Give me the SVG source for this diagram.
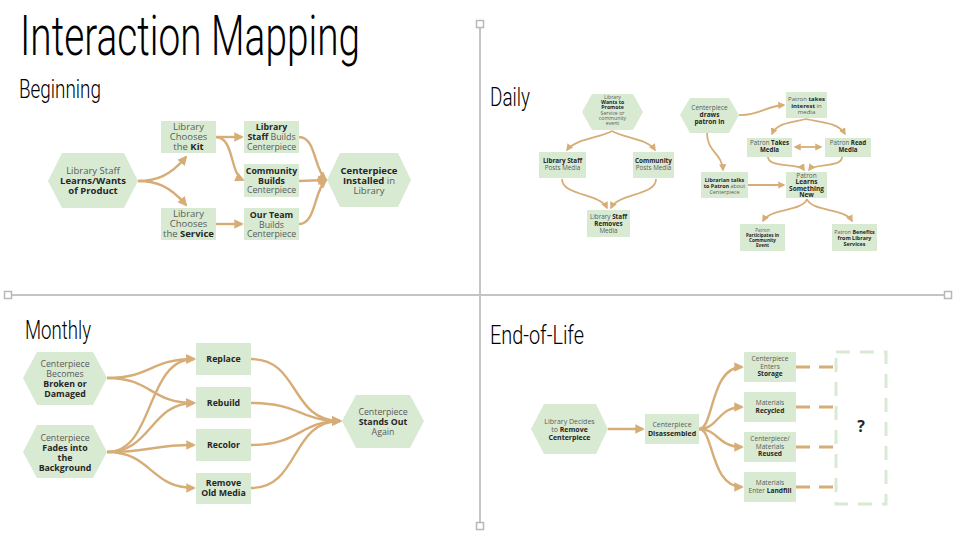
<svg xmlns="http://www.w3.org/2000/svg" width="960" height="540" viewBox="0 0 960 540">
<style>
.n{fill:#d9ead3}
.t{font-family:"Open Sans","Noto Sans","DejaVu Sans",sans-serif;fill:#5a5a5a;text-anchor:middle}
.b{font-weight:bold;fill:#262626}
.h{font-family:Roboto,"DejaVu Sans",sans-serif;font-weight:300;fill:#000}
.c{fill:none;stroke:#d7ad77;stroke-width:2.4}
.c2{fill:none;stroke:#d7ad77;stroke-width:1.8}
.d{fill:none;stroke:#d7ad77;stroke-width:3;stroke-dasharray:14 9}
.g{stroke:#c4c4c4;stroke-width:2;fill:none}
.gs{fill:#fff;stroke:#b8b8b8;stroke-width:1.5}
</style>
<defs>
<marker id="ah" viewBox="0 0 10 10" refX="8" refY="5" markerWidth="4" markerHeight="4" orient="auto-start-reverse">
<path d="M0,0 L10,5 L0,10 z" fill="#d7ad77"/>
</marker>
</defs>
<rect width="960" height="540" fill="#fff"/>
<g id="axes">
<line class="g" x1="480" y1="24" x2="480" y2="523"/>
<line class="g" x1="10" y1="295" x2="945" y2="295"/>
<rect class="gs" x="476.5" y="20.5" width="7" height="7"/>
<rect class="gs" x="476.5" y="522.5" width="7" height="7"/>
<rect class="gs" x="4.5" y="291.5" width="7" height="7"/>
<rect class="gs" x="944.5" y="291.5" width="7" height="7"/>
</g>
<g id="titles">
<text class="h" x="20" y="55" font-size="56" textLength="340" lengthAdjust="spacingAndGlyphs">Interaction Mapping</text>
<text class="h" x="19" y="98" font-size="26" textLength="82" lengthAdjust="spacingAndGlyphs">Beginning</text>
<text class="h" x="490" y="106" font-size="26" textLength="40" lengthAdjust="spacingAndGlyphs">Daily</text>
<text class="h" x="25" y="339" font-size="26" textLength="66" lengthAdjust="spacingAndGlyphs">Monthly</text>
<text class="h" x="490" y="344" font-size="26" textLength="94" lengthAdjust="spacingAndGlyphs">End-of-Life</text>
</g>
<g id="connectors">
<!-- Beginning -->
<path class="c" marker-end="url(#ah)" d="M138,181 C156,181 170,176 186,157"/>
<path class="c" marker-end="url(#ah)" d="M138,181 C156,181 170,186 186,205"/>
<path class="c" marker-end="url(#ah)" d="M216,137 L242,137"/>
<path class="c" marker-end="url(#ah)" d="M216,137 C234,137 230,174 243,180"/>
<path class="c" marker-end="url(#ah)" d="M216,224 L242,224"/>
<path class="c" marker-end="url(#ah)" d="M299,137 C316,137 314,170 326,180"/>
<path class="c" marker-end="url(#ah)" d="M299,181 L326,180"/>
<path class="c" marker-end="url(#ah)" d="M299,224 C316,224 314,190 326,180"/>
<!-- Daily left -->
<path class="c2" marker-end="url(#ah)" d="M612,131 C600,138 575,139 567,150"/>
<path class="c2" marker-end="url(#ah)" d="M612,131 C624,138 648,139 655,150"/>
<path class="c2" marker-end="url(#ah)" d="M562,179 C562,196 600,193 607,208"/>
<path class="c2" marker-end="url(#ah)" d="M656,179 C656,196 618,193 611,208"/>
<!-- Daily right -->
<path class="c2" marker-end="url(#ah)" d="M739,115 C758,116 766,106 784,105"/>
<path class="c2" marker-end="url(#ah)" d="M707,133 C707,152 722,153 723,170"/>
<path class="c2" marker-end="url(#ah)" d="M806,119 C795,122 777,122 772,134"/>
<path class="c2" marker-end="url(#ah)" d="M806,119 C818,122 838,122 845,134"/>
<path class="c2" marker-start="url(#ah)" marker-end="url(#ah)" d="M795,147 L821,147"/>
<path class="c2" marker-end="url(#ah)" d="M768,157 C768,168 800,163 804,170"/>
<path class="c2" marker-end="url(#ah)" d="M842,157 C842,168 814,163 809,170"/>
<path class="c2" marker-end="url(#ah)" d="M748,185 L784,185"/>
<path class="c2" marker-end="url(#ah)" d="M807,199 C802,212 770,208 763,221"/>
<path class="c2" marker-end="url(#ah)" d="M807,199 C812,212 845,208 852,221"/>
<!-- Monthly -->
<path class="c" marker-end="url(#ah)" d="M107,378 C152,378 150,359 194,359"/>
<path class="c" marker-end="url(#ah)" d="M107,378 C152,378 150,403 194,403"/>
<path class="c" marker-end="url(#ah)" d="M107,452 C155,452 145,359 194,359"/>
<path class="c" marker-end="url(#ah)" d="M107,452 C152,452 150,403 194,403"/>
<path class="c" marker-end="url(#ah)" d="M107,452 C152,452 150,445 194,445"/>
<path class="c" marker-end="url(#ah)" d="M107,452 C152,452 150,488 194,488"/>
<path class="c" marker-end="url(#ah)" d="M251,359 C300,359 290,421 340,421"/>
<path class="c" marker-end="url(#ah)" d="M251,403 C300,403 300,421 340,421"/>
<path class="c" marker-end="url(#ah)" d="M251,445 C300,445 300,421 340,421"/>
<path class="c" marker-end="url(#ah)" d="M251,488 C300,488 290,421 340,421"/>
<!-- End of life -->
<path class="c" marker-end="url(#ah)" d="M608,429 L643,429"/>
<path class="c" marker-end="url(#ah)" d="M699,429 C714,429 710,367 742,367"/>
<path class="c" marker-end="url(#ah)" d="M699,429 C718,429 718,407 742,407"/>
<path class="c" marker-end="url(#ah)" d="M699,429 C718,429 718,447 742,447"/>
<path class="c" marker-end="url(#ah)" d="M699,429 C714,429 710,487 742,487"/>
<path class="d" d="M796,367 L835,367"/>
<path class="d" d="M796,407 L835,407"/>
<path class="d" d="M796,447 L835,447"/>
<path class="d" d="M796,487 L835,487"/>
</g>
<!-- Beginning nodes -->
<g id="b-learns">
<polygon class="n" points="48,181 62,153 124,153 138,181 124,208 62,208"/>
<text class="t" x="93" font-size="9.5"><tspan x="93" y="174">Library Staff</tspan><tspan x="93" y="184" class="b">Learns/Wants</tspan><tspan x="93" y="194" class="b">of Product</tspan></text>
</g>
<g id="b-kit">
<rect class="n" x="161" y="121" width="55" height="32"/>
<text class="t" font-size="9.5"><tspan x="188.5" y="130">Library</tspan><tspan x="188.5" y="140">Chooses</tspan><tspan x="188.5" y="150">the <tspan class="b">Kit</tspan></tspan></text>
</g>
<g id="b-service">
<rect class="n" x="161" y="208" width="55" height="32"/>
<text class="t" font-size="9.5"><tspan x="188.5" y="217">Library</tspan><tspan x="188.5" y="227">Chooses</tspan><tspan x="188.5" y="237">the <tspan class="b">Service</tspan></tspan></text>
</g>
<g id="b-staff">
<rect class="n" x="244" y="121" width="55" height="32"/>
<text class="t" font-size="8.8"><tspan x="271.5" y="130" class="b">Library</tspan><tspan x="271.5" y="140"><tspan class="b">Staff</tspan> Builds</tspan><tspan x="271.5" y="150">Centerpiece</tspan></text>
</g>
<g id="b-community">
<rect class="n" x="244" y="164" width="55" height="33"/>
<text class="t" font-size="8.8"><tspan x="271.5" y="174" class="b">Community</tspan><tspan x="271.5" y="183.5" class="b">Builds</tspan><tspan x="271.5" y="193">Centerpiece</tspan></text>
</g>
<g id="b-team">
<rect class="n" x="244" y="208" width="55" height="32"/>
<text class="t" font-size="8.8"><tspan x="271.5" y="218" class="b">Our Team</tspan><tspan x="271.5" y="227.5">Builds</tspan><tspan x="271.5" y="237">Centerpiece</tspan></text>
</g>
<g id="b-installed">
<polygon class="n" points="327,180 340,153 398,153 411,180 398,207 340,207"/>
<text class="t" font-size="9.5"><tspan x="369" y="174" class="b">Centerpiece</tspan><tspan x="369" y="184"><tspan class="b">Installed</tspan> in</tspan><tspan x="369" y="194">Library</tspan></text>
</g>
<!-- Daily nodes -->
<g id="d-promote">
<polygon class="n" points="582,112 592,94 633,94 643,112 633,130 592,130"/>
<text class="t" font-size="5.2"><tspan x="612.5" y="99">Library</tspan><tspan x="612.5" y="104" class="b">Wants to</tspan><tspan x="612.5" y="109" class="b">Promote</tspan><tspan x="612.5" y="114.5">Service or</tspan><tspan x="612.5" y="119.5">community</tspan><tspan x="612.5" y="124.5">event</tspan></text>
</g>
<g id="d-staffposts">
<rect class="n" x="539" y="152" width="47" height="26"/>
<text class="t" font-size="6.3"><tspan x="562.5" y="163" class="b">Library Staff</tspan><tspan x="562.5" y="170">Posts Media</tspan></text>
</g>
<g id="d-commposts">
<rect class="n" x="633" y="152" width="41" height="26"/>
<text class="t" font-size="6.3"><tspan x="653.5" y="163" class="b">Community</tspan><tspan x="653.5" y="170">Posts Media</tspan></text>
</g>
<g id="d-removes">
<rect class="n" x="587" y="210" width="43" height="27"/>
<text class="t" font-size="6.3"><tspan x="608.5" y="219">Library <tspan class="b">Staff</tspan></tspan><tspan x="608.5" y="226" class="b">Removes</tspan><tspan x="608.5" y="233">Media</tspan></text>
</g>
<g id="d-draws">
<polygon class="n" points="680,115 690,98 729,98 739,115 729,133 690,133"/>
<text class="t" font-size="6.5"><tspan x="709.5" y="110">Centerpiece</tspan><tspan x="709.5" y="117" class="b">draws</tspan><tspan x="709.5" y="124" class="b">patron in</tspan></text>
</g>
<g id="d-interest">
<rect class="n" x="786" y="92" width="41" height="26"/>
<text class="t" font-size="6"><tspan x="806.5" y="101">Patron <tspan class="b">takes</tspan></tspan><tspan x="806.5" y="107.5"><tspan class="b">interest</tspan> in</tspan><tspan x="806.5" y="114">media</tspan></text>
</g>
<g id="d-takes">
<rect class="n" x="747" y="138" width="45" height="19"/>
<text class="t" font-size="6.2"><tspan x="769.5" y="145">Patron <tspan class="b">Takes</tspan></tspan><tspan x="769.5" y="152" class="b">Media</tspan></text>
</g>
<g id="d-read">
<rect class="n" x="825" y="138" width="46" height="19"/>
<text class="t" font-size="6.2"><tspan x="848" y="145">Patron <tspan class="b">Read</tspan></tspan><tspan x="848" y="152" class="b">Media</tspan></text>
</g>
<g id="d-librarian">
<rect class="n" x="701" y="172" width="47" height="26"/>
<text class="t" font-size="5.4"><tspan x="724.5" y="182" class="b">Librarian talks</tspan><tspan x="724.5" y="188"><tspan class="b">to Patron</tspan> about</tspan><tspan x="724.5" y="194">Centerpiece</tspan></text>
</g>
<g id="d-learns">
<rect class="n" x="786" y="172" width="41" height="26"/>
<text class="t" font-size="6.5"><tspan x="806.5" y="177.5">Patron</tspan><tspan x="806.5" y="184" class="b">Learns</tspan><tspan x="806.5" y="190.5" class="b">Something</tspan><tspan x="806.5" y="197" class="b">New</tspan></text>
</g>
<g id="d-participates">
<rect class="n" x="740" y="224" width="45" height="27"/>
<text class="t" font-size="4.6"><tspan x="762.5" y="232">Patron</tspan><tspan x="762.5" y="237" class="b">Participates in</tspan><tspan x="762.5" y="242" class="b">Community</tspan><tspan x="762.5" y="247" class="b">Event</tspan></text>
</g>
<g id="d-benefits">
<rect class="n" x="832" y="224" width="45" height="27"/>
<text class="t" font-size="5.4"><tspan x="854.5" y="234">Patron <tspan class="b">Benefits</tspan></tspan><tspan x="854.5" y="240" class="b">from Library</tspan><tspan x="854.5" y="246" class="b">Services</tspan></text>
</g>
<!-- Monthly nodes -->
<g id="m-broken">
<polygon class="n" points="23,378 37,352 93,352 107,378 93,405 37,405"/>
<text class="t" font-size="8.8"><tspan x="65" y="367">Centerpiece</tspan><tspan x="65" y="377">Becomes</tspan><tspan x="65" y="387" class="b">Broken or</tspan><tspan x="65" y="397" class="b">Damaged</tspan></text>
</g>
<g id="m-fades">
<polygon class="n" points="23,452 37,425 93,425 107,452 93,478 37,478"/>
<text class="t" font-size="8.8"><tspan x="65" y="441">Centerpiece</tspan><tspan x="65" y="451" class="b">Fades into</tspan><tspan x="65" y="460.5" class="b">the</tspan><tspan x="65" y="470.5" class="b">Background</tspan></text>
</g>
<g id="m-replace">
<rect class="n" x="196" y="343" width="55" height="32"/>
<text class="t b" x="223.5" y="362" font-size="8.8">Replace</text>
</g>
<g id="m-rebuild">
<rect class="n" x="196" y="387" width="55" height="31"/>
<text class="t b" x="223.5" y="406" font-size="8.8">Rebuild</text>
</g>
<g id="m-recolor">
<rect class="n" x="196" y="429" width="55" height="32"/>
<text class="t b" x="223.5" y="448" font-size="8.8">Recolor</text>
</g>
<g id="m-remove">
<rect class="n" x="196" y="473" width="55" height="31"/>
<text class="t b" font-size="8.8"><tspan x="223.5" y="486">Remove</tspan><tspan x="223.5" y="496">Old Media</tspan></text>
</g>
<g id="m-stands">
<polygon class="n" points="342,421 356,395 410,395 424,421 410,448 356,448"/>
<text class="t" font-size="8.8"><tspan x="383" y="415">Centerpiece</tspan><tspan x="383" y="425" class="b">Stands Out</tspan><tspan x="383" y="435">Again</tspan></text>
</g>
<!-- End-of-Life nodes -->
<g id="e-decides">
<polygon class="n" points="531,429 544,404 596,404 608,429 596,454 544,454"/>
<text class="t" font-size="7"><tspan x="569.5" y="423.5">Library Decides</tspan><tspan x="569.5" y="431.5">to <tspan class="b">Remove</tspan></tspan><tspan x="569.5" y="439.5" class="b">Centerpiece</tspan></text>
</g>
<g id="e-disassembled">
<rect class="n" x="645" y="414" width="54" height="30"/>
<text class="t" font-size="7"><tspan x="672" y="427">Centerpiece</tspan><tspan x="672" y="435.5" class="b">Disassembled</tspan></text>
</g>
<g id="e-storage">
<rect class="n" x="744" y="352" width="52" height="30"/>
<text class="t" font-size="6.6"><tspan x="770" y="361">Centerpiece</tspan><tspan x="770" y="368.5">Enters</tspan><tspan x="770" y="376" class="b">Storage</tspan></text>
</g>
<g id="e-recycled">
<rect class="n" x="744" y="392" width="52" height="30"/>
<text class="t" font-size="6.6"><tspan x="770" y="405">Materials</tspan><tspan x="770" y="413" class="b">Recycled</tspan></text>
</g>
<g id="e-reused">
<rect class="n" x="744" y="432" width="52" height="30"/>
<text class="t" font-size="6.6"><tspan x="770" y="441">Centerpiece/</tspan><tspan x="770" y="448.5">Materials</tspan><tspan x="770" y="456" class="b">Reused</tspan></text>
</g>
<g id="e-landfill">
<rect class="n" x="744" y="472" width="52" height="30"/>
<text class="t" font-size="6.6"><tspan x="770" y="484.5">Materials</tspan><tspan x="770" y="492.5">Enter <tspan class="b">Landfill</tspan></tspan></text>
</g>
<g id="e-unknown">
<rect x="836" y="352" width="50" height="152" fill="none" stroke="#d9ead3" stroke-width="3" stroke-dasharray="14 10"/>
<text class="t b" x="861" y="432" font-size="16">?</text>
</g>
</svg>
